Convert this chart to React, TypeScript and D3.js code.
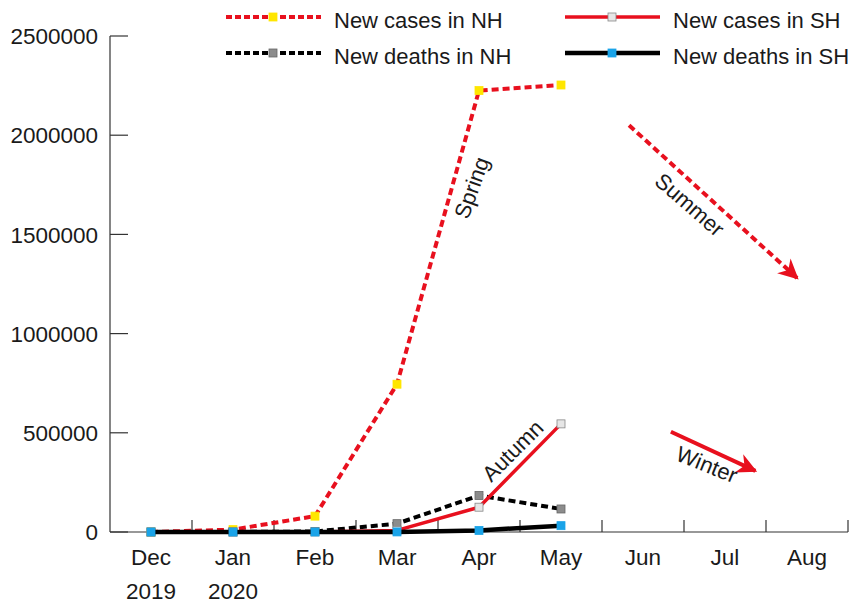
import React, { useEffect, useRef } from 'react';
import * as d3 from 'd3';

const months = ['Dec', 'Jan', 'Feb', 'Mar', 'Apr', 'May', 'Jun', 'Jul', 'Aug'];
const yearLabels = ['2019', '2020'];
const yTicks = [0, 500000, 1000000, 1500000, 2000000, 2500000];

// monthly values, Dec 2019 - May 2020
const nhCases = [0, 12000, 80000, 745000, 2225000, 2253000];
const nhDeaths = [0, 300, 2500, 42000, 184000, 116000];
const shCases = [0, 0, 200, 8000, 125000, 545000];
const shDeaths = [0, 0, 0, 400, 8000, 32000];

// season annotations, in [month index, value]
const seasonLabels = [
  { text: 'Spring', at: [3.91, 1735000], angle: -70 },
  { text: 'Autumn', at: [4.41, 410000], angle: -45 },
  { text: 'Summer', at: [6.57, 1650000], angle: 41 },
  { text: 'Winter', at: [6.78, 340000], angle: 22 },
];
const seasonArrows = [
  { from: [5.83, 2050000], to: [7.88, 1280000], dashed: true },
  { from: [6.34, 505000], to: [7.37, 308000], dashed: false },
];

const series = [
  { name: 'New cases in NH', values: nhCases, color: '#e8101e', dash: '7,4', width: 4, marker: '#ffe600', mstroke: '#ffe600' },
  { name: 'New deaths in NH', values: nhDeaths, color: '#000', dash: '7,4', width: 4, marker: '#8c8c8c', mstroke: '#666' },
  { name: 'New cases in SH', values: shCases, color: '#e8101e', dash: null, width: 3.5, marker: '#e6e6e6', mstroke: '#888' },
  { name: 'New deaths in SH', values: shDeaths, color: '#000', dash: null, width: 4.5, marker: '#1aa3e8', mstroke: '#1aa3e8' },
];

const App = () => {
  const svgRef = useRef(null);

  useEffect(() => {
    if (!svgRef.current) return;
    const svg = d3.select(svgRef.current);
    svg.selectAll('*').remove();

    const font = '"Liberation Sans", Arial, sans-serif';
    const left = 110, right = 848, top = 36, bottom = 532;

    // month index -> x (category centres)
    const x = d3.scaleLinear().domain([-0.5, months.length - 0.5]).range([left, right]);
    const y = d3.scaleLinear().domain([0, 2500000]).range([bottom, top]);

    const defs = svg.append('defs');
    defs.append('marker')
      .attr('id', 'arrowhead')
      .attr('viewBox', '0 0 10 10')
      .attr('refX', 9).attr('refY', 5)
      .attr('markerWidth', 6).attr('markerHeight', 5)
      .attr('markerUnits', 'strokeWidth')
      .attr('orient', 'auto')
      .append('path')
      .attr('d', 'M0,0 L10,5 L0,10 L3,5 Z')
      .attr('fill', '#e8101e');

    // Y axis
    svg.append('line')
      .attr('x1', left).attr('x2', left).attr('y1', top).attr('y2', bottom)
      .attr('stroke', '#333').attr('stroke-width', 1.2);
    yTicks.forEach(t => {
      svg.append('line')
        .attr('x1', left).attr('x2', left + 18).attr('y1', y(t)).attr('y2', y(t))
        .attr('stroke', '#333').attr('stroke-width', 1.2);
      svg.append('text')
        .attr('x', left - 12).attr('y', y(t)).attr('dy', '0.36em')
        .attr('text-anchor', 'end')
        .style('font-family', font).style('font-size', '22.5px').attr('fill', '#1a1a1a')
        .text(t);
    });

    // X axis
    svg.append('line')
      .attr('x1', left).attr('x2', right).attr('y1', bottom).attr('y2', bottom)
      .attr('stroke', '#333').attr('stroke-width', 1.2);
    months.forEach((m, i) => {
      svg.append('line')
        .attr('x1', x(i + 0.5)).attr('x2', x(i + 0.5)).attr('y1', bottom).attr('y2', bottom - 12)
        .attr('stroke', '#333').attr('stroke-width', 1.2);
      svg.append('text')
        .attr('x', x(i)).attr('y', bottom + 33)
        .attr('text-anchor', 'middle')
        .style('font-family', font).style('font-size', '22.5px').attr('fill', '#1a1a1a')
        .text(m);
    });
    yearLabels.forEach((yr, i) => {
      svg.append('text')
        .attr('x', x(i)).attr('y', bottom + 67)
        .attr('text-anchor', 'middle')
        .style('font-family', font).style('font-size', '22.5px').attr('fill', '#1a1a1a')
        .text(yr);
    });

    // series
    const line = d3.line().x((d, i) => x(i)).y(d => y(d));
    series.forEach(s => {
      svg.append('path')
        .attr('d', line(s.values))
        .attr('fill', 'none')
        .attr('stroke', s.color)
        .attr('stroke-width', s.width)
        .attr('stroke-dasharray', s.dash)
        .attr('stroke-linejoin', 'round');
      s.values.forEach((v, i) => {
        svg.append('rect')
          .attr('x', x(i) - 4).attr('y', y(v) - 4)
          .attr('width', 8).attr('height', 8)
          .attr('fill', s.marker)
          .attr('stroke', s.mstroke).attr('stroke-width', 0.8);
      });
    });

    // season arrows
    seasonArrows.forEach(a => {
      svg.append('line')
        .attr('x1', x(a.from[0])).attr('y1', y(a.from[1]))
        .attr('x2', x(a.to[0])).attr('y2', y(a.to[1]))
        .attr('stroke', '#e8101e').attr('stroke-width', 4)
        .attr('stroke-dasharray', a.dashed ? '7,4' : null)
        .attr('marker-end', 'url(#arrowhead)');
    });

    // season labels
    seasonLabels.forEach(l => {
      svg.append('text')
        .attr('transform', `translate(${x(l.at[0])},${y(l.at[1])}) rotate(${l.angle})`)
        .attr('text-anchor', 'middle').attr('dy', '0.35em')
        .style('font-family', font).style('font-size', '22px').attr('fill', '#1a1a1a')
        .text(l.text);
    });

    // legend
    const legendPos = [[226, 17], [226, 53], [565, 17], [565, 53]];
    series.forEach((s, i) => {
      const [lx, ly] = legendPos[i];
      const g = svg.append('g').attr('transform', `translate(${lx},${ly})`);
      g.append('line')
        .attr('x1', 0).attr('x2', 95).attr('y1', 0).attr('y2', 0)
        .attr('stroke', s.color).attr('stroke-width', s.width)
        .attr('stroke-dasharray', s.dash ? '6,3' : null);
      g.append('rect')
        .attr('x', 43).attr('y', -4).attr('width', 8).attr('height', 8)
        .attr('fill', s.marker).attr('stroke', s.mstroke).attr('stroke-width', 0.8);
      g.append('text')
        .attr('x', 108).attr('y', 3).attr('dy', '0.36em')
        .style('font-family', font).style('font-size', '22px').attr('fill', '#1a1a1a')
        .text(s.name);
    });
  }, []);

  return (
    <div>
      <svg ref={svgRef} width={856} height={606} style={{ position: 'absolute', left: 0, top: 0, background: '#fff' }}></svg>
    </div>
  );
};

export default App;
